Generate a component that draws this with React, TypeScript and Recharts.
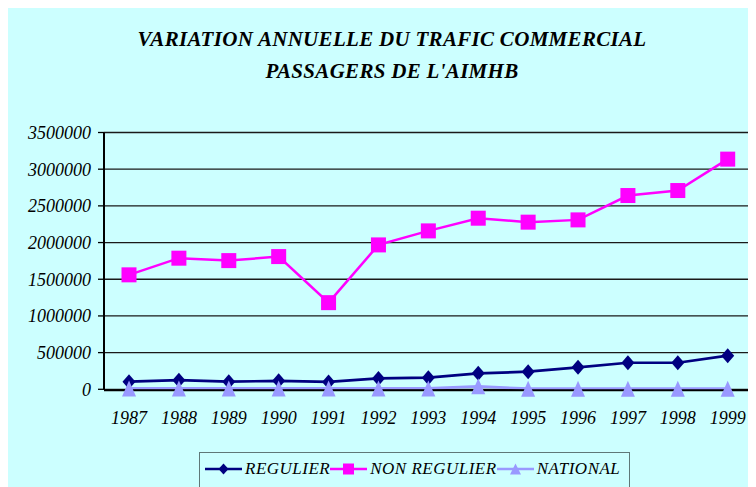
import { LineChart, Line, XAxis, YAxis, CartesianGrid } from 'recharts';

const years = ['1987', '1988', '1989', '1990', '1991', '1992', '1993', '1994', '1995', '1996', '1997', '1998', '1999'];
const regulier = [104000, 125000, 104000, 115000, 100000, 148000, 158000, 218000, 240000, 300000, 362000, 362000, 458000];
const nonRegulier = [1560000, 1787000, 1754000, 1809000, 1181000, 1968000, 2159000, 2332000, 2278000, 2309000, 2641000, 2709000, 3137000];
const national = [12000, 12000, 12000, 12000, 12000, 12000, 12000, 40000, 8000, 8000, 8000, 8000, 8000];
const yTicks = [0, 500000, 1000000, 1500000, 2000000, 2500000, 3000000, 3500000];
const edgeTicks = [0, 1, 2, 3, 4, 5, 6, 7, 8, 9, 10, 11, 12, 13];

const data = years.map((year, i) => ({
  year,
  regulier: regulier[i],
  nonRegulier: nonRegulier[i],
  national: national[i],
}));

const FONT = '"Liberation Serif", "Times New Roman", serif';
const NAVY = '#000080';
const MAGENTA = '#FF00FF';
const LAVENDER = '#9999FF';
const BG = '#CCFFFF';

const diamond = (p: any) => (
  <path
    key={`d-${p.index}`}
    d={`M${p.cx},${p.cy - 7.5}L${p.cx + 6.5},${p.cy}L${p.cx},${p.cy + 7.5}L${p.cx - 6.5},${p.cy}Z`}
    fill={NAVY}
  />
);

const square = (p: any) => (
  <rect key={`s-${p.index}`} x={p.cx - 7.5} y={p.cy - 7.5} width={15} height={15} fill={MAGENTA} />
);

const triangle = (p: any) => (
  <path
    key={`t-${p.index}`}
    d={`M${p.cx},${p.cy - 8}L${p.cx + 7},${p.cy + 8}L${p.cx - 7},${p.cy + 8}Z`}
    fill={LAVENDER}
  />
);

const YearTick = ({ x, y, payload }: any) => (
  <text x={x} y={y} dy="0.71em" textAnchor="middle" fontFamily={FONT} fontStyle="italic" fontSize={18} fill="#000">
    {payload.value}
  </text>
);

const legendItems = [
  { name: 'REGULIER', color: NAVY, shape: 'diamond' },
  { name: 'NON REGULIER', color: MAGENTA, shape: 'square' },
  { name: 'NATIONAL', color: LAVENDER, shape: 'triangle' },
];

function LegendIcon({ color, shape }: { color: string; shape: string }) {
  return (
    <svg width={37} height={16} style={{ display: 'block' }}>
      <line x1={0} y1={8} x2={37} y2={8} stroke={color} strokeWidth={2.5} />
      {shape === 'diamond' && <path d="M18.5,2.5L23.5,8L18.5,13.5L13.5,8Z" fill={color} />}
      {shape === 'square' && <rect x={13} y={2.5} width={11} height={11} fill={color} />}
      {shape === 'triangle' && <path d="M18.5,2.5L24,13.5L13,13.5Z" fill={color} />}
    </svg>
  );
}

export default function App() {
  return (
    <div style={{ position: 'relative', width: 748, height: 479, background: BG, fontFamily: FONT }}>
      {/* title */}
      <div
        style={{
          position: 'absolute',
          left: 0,
          top: 21,
          width: 768,
          textAlign: 'center',
          fontSize: 21,
          fontWeight: 'bold',
          fontStyle: 'italic',
          letterSpacing: 0.3,
          color: '#000',
        }}
      >
        <div style={{ lineHeight: '20px' }}>VARIATION ANNUELLE DU TRAFIC COMMERCIAL</div>
        <div style={{ lineHeight: '20px', marginTop: 12 }}>PASSAGERS DE L'AIMHB</div>
      </div>

      <LineChart width={748} height={479} data={data} margin={{ top: 124.5, right: 2.3, bottom: 95.7, left: 0 }}>
        <CartesianGrid horizontal vertical={false} stroke="#1a1a1a" strokeWidth={1.3} />
        <XAxis
          xAxisId="edges"
          type="number"
          domain={[0, 13]}
          ticks={edgeTicks}
          allowDataOverflow
          height={1}
          tick={false}
          tickSize={6}
          axisLine={{ stroke: '#000', strokeWidth: 2 }}
          tickLine={{ stroke: '#000', strokeWidth: 1.3 }}
        />
        <XAxis
          dataKey="year"
          height={1}
          padding={{ left: 25, right: 25 }}
          axisLine={false}
          tickLine={false}
          tickSize={0}
          tickMargin={22}
          interval={0}
          tick={<YearTick />}
        />
        <YAxis
          width={96}
          domain={[0, 3500000]}
          ticks={yTicks}
          interval={0}
          tickSize={6}
          tickMargin={7}
          axisLine={{ stroke: '#000', strokeWidth: 2 }}
          tickLine={{ stroke: '#000', strokeWidth: 1.3 }}
          tick={{ fontFamily: FONT, fontStyle: 'italic', fontSize: 18, fill: '#000' }}
        />
        <YAxis
          yAxisId="right"
          orientation="right"
          width={1}
          domain={[0, 3500000]}
          tick={false}
          tickLine={false}
          axisLine={{ stroke: '#000', strokeWidth: 1.5 }}
        />
        <Line dataKey="regulier" stroke={NAVY} strokeWidth={2.7} dot={diamond} activeDot={false} isAnimationActive={false} />
        <Line dataKey="nonRegulier" stroke={MAGENTA} strokeWidth={2.5} dot={square} activeDot={false} isAnimationActive={false} />
        <Line dataKey="national" stroke={LAVENDER} strokeWidth={2.7} dot={triangle} activeDot={false} isAnimationActive={false} />
      </LineChart>

      {/* legend */}
      <div
        style={{
          position: 'absolute',
          left: 191,
          top: 444,
          width: 431,
          height: 40,
          border: '1px solid #5f7878',
          background: BG,
          display: 'flex',
          alignItems: 'flex-start',
          paddingLeft: 5,
          paddingTop: 6,
          boxSizing: 'border-box',
        }}
      >
        {legendItems.map(item => (
          <div key={item.name} style={{ display: 'flex', alignItems: 'center', height: 20 }}>
            <LegendIcon color={item.color} shape={item.shape} />
            <span style={{ marginLeft: 3, fontSize: 17, fontStyle: 'italic', letterSpacing: 0.5, lineHeight: '20px', color: '#000', whiteSpace: 'nowrap' }}>
              {item.name}
            </span>
          </div>
        ))}
      </div>
    </div>
  );
}
